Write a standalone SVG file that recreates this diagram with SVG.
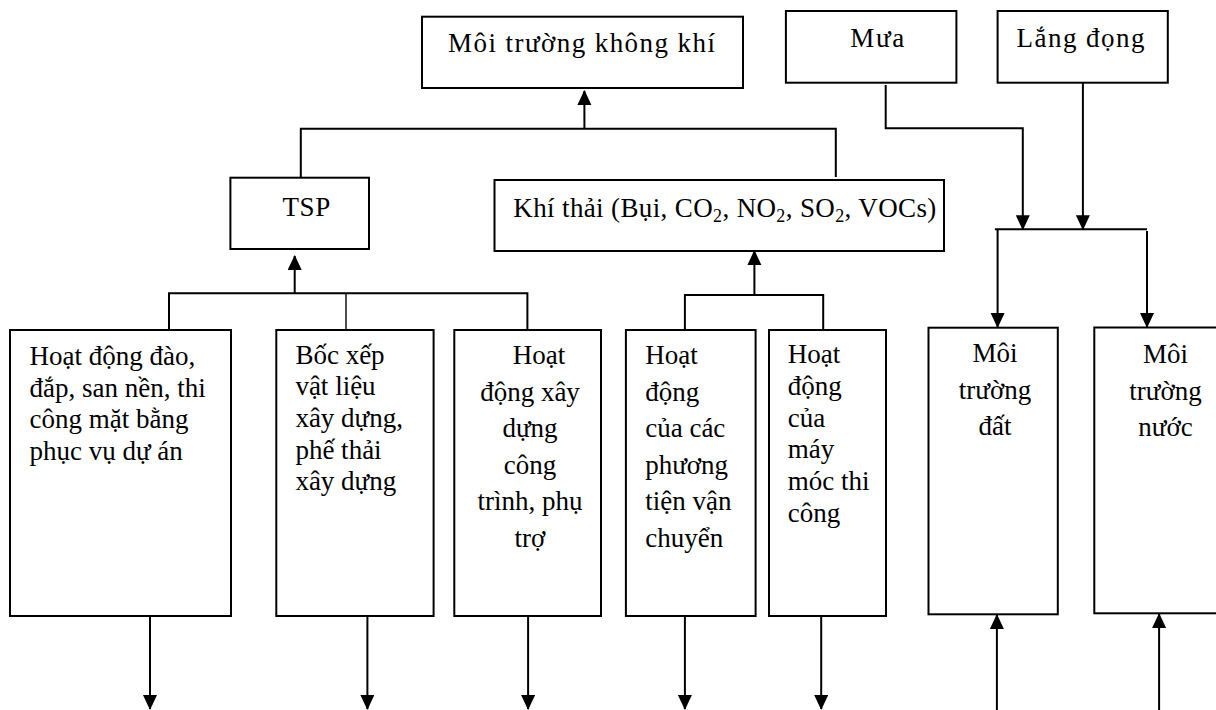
<svg xmlns="http://www.w3.org/2000/svg" width="1216" height="710" viewBox="0 0 1216 710">
<style>
.box{fill:#fff;stroke:#000;stroke-width:2}
.t{font-size:27px;fill:#000}
.m{text-anchor:middle}
.sub{font-size:18px}
.ln{fill:none;stroke:#000;stroke-width:2}
.thin{stroke-width:1.4}
.ar{fill:none;stroke:#000;stroke-width:2;marker-end:url(#arr)}
</style>
<defs>
<marker id="arr" markerWidth="16" markerHeight="16" refX="14" refY="7" orient="auto" markerUnits="userSpaceOnUse">
<path d="M0,0 L15,7 L0,14 z" fill="#000"/>
</marker>
</defs>
<rect width="1216" height="710" fill="#fff"/>
<g id="connectors">
<path class="ln" d="M300.8,177.7 V128.7 H835.8 V177"/>
<path class="ar" d="M584.4,128.7 V91"/>
<path class="ln" d="M169,329.5 V293.3 H527.4 V329.5"/>
<path class="ln thin" d="M346,293.3 V329.5"/>
<path class="ar" d="M294.7,293.3 V256"/>
<path class="ln" d="M684.9,329.5 V295 H823.2 V329.5"/>
<path class="ar" d="M754.4,295 V251"/>
<path class="ar" d="M885.7,85 V128.3 H1022.8 V229.3"/>
<path class="ar" d="M1082.9,83 V229.3"/>
<path class="ln" d="M994.9,229.3 H1147"/>
<path class="ar" d="M997.6,229.3 V327"/>
<path class="ar" d="M1147,231 V327"/>
<path class="ar" d="M150,616 V709"/>
<path class="ar" d="M367.4,617 V709"/>
<path class="ar" d="M528.1,616 V709"/>
<path class="ar" d="M684.9,616 V709"/>
<path class="ar" d="M821.2,616 V709"/>
<path class="ar" d="M996.9,710 V615"/>
<path class="ar" d="M1159.1,710 V614"/>
</g>
<g font-family="Liberation Serif, Times New Roman, DejaVu Serif, serif">
<g id="n_air"><rect class="box" x="422" y="16.7" width="321" height="71.3"/><text class="t" x="448" y="52" textLength="267" lengthAdjust="spacing">Môi trường không khí</text></g>
<g id="n_mua"><rect class="box" x="785.9" y="11" width="170.5" height="71.7"/><text class="t" x="850.3" y="46.7" textLength="54" lengthAdjust="spacing">Mưa</text></g>
<g id="n_langdong"><rect class="box" x="997.6" y="11" width="170.2" height="71.7"/><text class="t" x="1016.5" y="46.7" textLength="128" lengthAdjust="spacing">Lắng đọng</text></g>
<g id="n_tsp"><rect class="box" x="230.4" y="177.7" width="138.6" height="71.3"/><text class="t" x="282.4" y="216" textLength="48" lengthAdjust="spacing">TSP</text></g>
<g id="n_khithai"><rect class="box" x="494.5" y="180" width="449.5" height="71"/><text class="t" x="513.3" y="216.7" textLength="423" lengthAdjust="spacing">Khí thải (Bụi, CO<tspan class="sub" dy="5">2</tspan><tspan dy="-5">, NO</tspan><tspan class="sub" dy="5">2</tspan><tspan dy="-5">, SO</tspan><tspan class="sub" dy="5">2</tspan><tspan dy="-5">, VOCs)</tspan></text></g>
<g id="n_b1"><rect class="box" x="10" y="330" width="221" height="286"/>
<text class="t" x="29.5" y="364.5">Hoạt động đào,</text>
<text class="t" x="29.5" y="396.5">đắp, san nền, thi</text>
<text class="t" x="29.5" y="428">công mặt bằng</text>
<text class="t" x="29.5" y="459.5">phục vụ dự án</text></g>
<g id="n_b2"><rect class="box" x="276.3" y="330" width="157.3" height="286"/>
<text class="t" x="295.4" y="363.5">Bốc xếp</text>
<text class="t" x="295.4" y="395">vật liệu</text>
<text class="t" x="295.4" y="427">xây dựng,</text>
<text class="t" x="295.4" y="458.5">phế thải</text>
<text class="t" x="295.4" y="490">xây dựng</text></g>
<g id="n_b3"><rect class="box" x="454.3" y="330" width="146.7" height="286"/>
<text class="t m" x="539" y="364">Hoạt</text>
<text class="t m" x="530" y="400.5">động xây</text>
<text class="t m" x="530" y="437">dựng</text>
<text class="t m" x="530" y="473.5">công</text>
<text class="t m" x="530" y="510">trình, phụ</text>
<text class="t m" x="530" y="546.5">trợ</text></g>
<g id="n_b4"><rect class="box" x="625.9" y="330" width="129.7" height="286"/>
<text class="t" x="645.2" y="364">Hoạt</text>
<text class="t" x="645.2" y="400.5">động</text>
<text class="t" x="645.2" y="437">của các</text>
<text class="t" x="645.2" y="473.5">phương</text>
<text class="t" x="645.2" y="510">tiện vận</text>
<text class="t" x="645.2" y="546.5">chuyển</text></g>
<g id="n_b5"><rect class="box" x="769" y="330" width="117" height="286"/>
<text class="t" x="787.8" y="363.3">Hoạt</text>
<text class="t" x="787.8" y="395">động</text>
<text class="t" x="787.8" y="426.7">của</text>
<text class="t" x="787.8" y="458.3">máy</text>
<text class="t" x="787.8" y="490">móc thi</text>
<text class="t" x="787.8" y="521.7">công</text></g>
<g id="n_dat"><rect class="box" x="928.5" y="327.7" width="129.3" height="286.6"/>
<text class="t m" x="995" y="362">Môi</text>
<text class="t m" x="995" y="398.5">trường</text>
<text class="t m" x="995" y="435">đất</text></g>
<g id="n_nuoc"><rect class="box" x="1094.3" y="327.5" width="140" height="285.8"/>
<text class="t m" x="1165.5" y="363">Môi</text>
<text class="t m" x="1165.5" y="399.5">trường</text>
<text class="t m" x="1165.5" y="436">nước</text></g>
</g>
</svg>
